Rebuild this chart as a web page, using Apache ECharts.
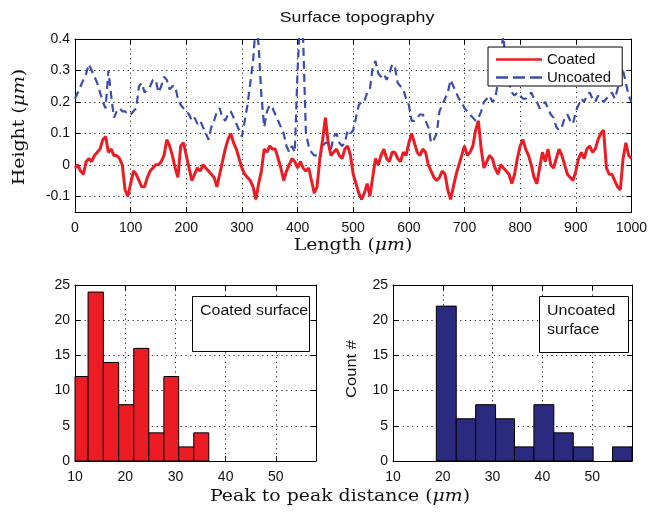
<!DOCTYPE html>
<html>
<head>
<meta charset="utf-8">
<script src="https://cdn.jsdelivr.net/npm/echarts@6/dist/echarts.min.js"></script>
<style>
  html, body { margin: 0; padding: 0; background: #fff; }
  #chart { width: 650px; height: 512px; }
</style>
</head>
<body>
<div id="chart"></div>
<script>
// Profile samples every 5 µm along the scan, 0 … 1000 µm
const sampleSpacing = 5;
const coatedHeight = [
  -0.01, 0.00, -0.02, -0.03, 0.01, 0.02, 0.01, 0.03, 0.04, 0.05,
  0.08, 0.09, 0.04, 0.05, 0.03, 0.03, 0.02, 0.00, -0.08, -0.10,
  -0.06, -0.02, -0.03, -0.05, -0.07, -0.07, -0.04, -0.02, -0.01, 0.00,
  0.00, 0.01, 0.03, 0.08, 0.06, 0.03, -0.01, -0.04, 0.06, 0.07,
  0.03, -0.01, -0.05, -0.03, -0.01, -0.02, 0.00, -0.01, -0.02, -0.03,
  -0.04, -0.07, -0.03, 0.01, 0.05, 0.08, 0.10, 0.07, 0.05, 0.02,
  -0.01, -0.03, -0.04, -0.05, -0.07, -0.11, -0.06, -0.02, 0.05, 0.04,
  0.06, 0.05, 0.05, 0.02, -0.01, -0.05, -0.02, 0.00, 0.02, 0.01,
  -0.01, 0.01, -0.01, -0.02, -0.01, -0.05, -0.09, -0.07, 0.02, 0.08,
  0.15, 0.07, 0.03, 0.04, 0.05, 0.03, 0.02, 0.05, 0.06, 0.03,
  -0.03, -0.06, -0.09, -0.11, -0.09, -0.06, -0.10, -0.04, 0.02, 0.00,
  0.03, 0.05, 0.02, 0.01, 0.04, 0.04, 0.02, 0.01, 0.04, 0.03,
  0.07, 0.10, 0.07, 0.04, 0.03, 0.05, 0.04, 0.00, -0.02, -0.04,
  -0.05, -0.04, -0.02, -0.03, -0.08, -0.11, -0.07, -0.03, 0.00, 0.03,
  0.06, 0.03, 0.04, 0.06, 0.11, 0.14, 0.05, -0.01, 0.01, 0.03,
  0.02, -0.01, -0.03, 0.00, -0.01, -0.02, -0.03, -0.06, -0.03, 0.02,
  0.06, 0.08, 0.05, 0.03, 0.00, -0.04, -0.06, -0.01, 0.04, 0.01,
  0.05, 0.00, -0.01, 0.02, 0.05, 0.03, 0.00, -0.03, -0.04, -0.05,
  -0.02, 0.02, 0.04, 0.02, 0.05, 0.06, 0.04, 0.05, 0.08, 0.10,
  0.11, -0.01, -0.03, -0.03, -0.05, -0.07, -0.08, 0.02, 0.07, 0.03,
  0.02
];
const uncoatedHeight = [
  0.21, 0.23, 0.25, 0.27, 0.29, 0.32, 0.30, 0.28, 0.26, 0.23,
  0.20, 0.18, 0.30, 0.22, 0.15, 0.17, 0.18, 0.17, 0.17, 0.16,
  0.16, 0.17, 0.18, 0.25, 0.26, 0.23, 0.24, 0.25, 0.27, 0.27,
  0.23, 0.25, 0.28, 0.27, 0.24, 0.25, 0.25, 0.21, 0.19, 0.18,
  0.17, 0.16, 0.14, 0.15, 0.13, 0.14, 0.12, 0.10, 0.08, 0.12,
  0.14, 0.17, 0.18, 0.15, 0.14, 0.16, 0.17, 0.15, 0.13, 0.11,
  0.09, 0.14, 0.19, 0.26, 0.33, 0.45, 0.38, 0.22, 0.12, 0.17,
  0.19, 0.18, 0.16, 0.14, 0.12, 0.10, 0.06, 0.04, 0.06, 0.04,
  0.30, 0.48, 0.40, 0.10, 0.06, 0.04, 0.03, 0.03, 0.02, 0.06,
  0.07, 0.07, 0.05, 0.09, 0.10, 0.07, 0.06, 0.07, 0.11, 0.10,
  0.11, 0.15, 0.19, 0.20, 0.20, 0.23, 0.24, 0.31, 0.33, 0.29,
  0.28, 0.29, 0.27, 0.29, 0.32, 0.31, 0.26, 0.25, 0.24, 0.21,
  0.19, 0.14, 0.14, 0.15, 0.16, 0.16, 0.14, 0.12, 0.07, 0.08,
  0.10, 0.17, 0.19, 0.21, 0.23, 0.27, 0.25, 0.23, 0.21, 0.20,
  0.18, 0.17, 0.16, 0.15, 0.14, 0.15, 0.17, 0.20, 0.21, 0.22,
  0.20, 0.21, 0.26, 0.36, 0.41, 0.30, 0.26, 0.23, 0.22, 0.23,
  0.22, 0.21, 0.21, 0.22, 0.23, 0.21, 0.20, 0.18, 0.19, 0.20,
  0.18, 0.16, 0.15, 0.12, 0.11, 0.12, 0.15, 0.16, 0.14, 0.13,
  0.17, 0.19, 0.21, 0.20, 0.22, 0.23, 0.21, 0.20, 0.22, 0.21,
  0.20, 0.21, 0.22, 0.23, 0.21, 0.24, 0.28, 0.30, 0.26, 0.22,
  0.20
];
const lengthTicks = [0, 100, 200, 300, 400, 500, 600, 700, 800, 900, 1000];
const heightTicks = [-0.1, 0, 0.1, 0.2, 0.3, 0.4];

// Peak-to-peak distance histograms: bin edges (µm) and counts
const coatedBinEdges = [9.6, 12.6, 15.65, 18.7, 21.7, 24.7, 27.7, 30.65, 33.65, 36.65];
const coatedCounts = [12, 24, 14, 8, 16, 4, 12, 2, 4];
const uncoatedBinEdges = [18.7, 22.7, 26.6, 30.6, 34.4, 38.3, 42.3, 46.2, 50.2, 54.1, 58.1];
const uncoatedCounts = [22, 6, 8, 6, 2, 8, 4, 2, 0, 2];
const distanceTicks = [10, 20, 30, 40, 50];
const countTicks = [0, 5, 10, 15, 20, 25];

const SANS = 'Liberation Sans, Arial, sans-serif';
const SERIF = 'DejaVu Serif, serif';
const INK = '#111';
const RED = '#ec1c24';
const BLUE = '#3b4cb0';
const NAVY = '#2a2a7e';
const WIDE = 1.18; // horizontal stretch of the lettering

const toPairs = (vals) => vals.map((v, i) => [i * sampleSpacing, v]);
const binData = (edges, counts) => counts.map((c, i) => [edges[i], edges[i + 1], c]);

const gridLine = { show: true, lineStyle: { color: '#222', type: [1.2, 3.6], width: 1 } };
const axisLine = { show: true, onZero: false, lineStyle: { color: '#000', width: 1 } };
const tickIn = (vals) => ({ show: true, inside: true, length: 5, lineStyle: { color: '#000' }, customValues: vals });
const tickLabel = (vals, margin) => ({
  show: true, customValues: vals, margin, color: INK, fontFamily: SANS, fontSize: 14,
  formatter: (v) => String(Math.round(v * 10) / 10)
});

function xPair(grid, min, max, ticks) {
  return [
    { type: 'value', gridIndex: grid, min, max, position: 'bottom',
      axisLine, axisTick: tickIn(ticks), axisLabel: tickLabel(ticks, 9), splitLine: gridLine },
    { type: 'value', gridIndex: grid, min, max, position: 'top',
      axisLine, axisTick: tickIn(ticks), axisLabel: { show: false }, splitLine: { show: false } }
  ];
}
function yPair(grid, min, max, ticks) {
  return [
    { type: 'value', gridIndex: grid, min, max, position: 'left',
      axisLine, axisTick: tickIn(ticks), axisLabel: tickLabel(ticks, 5), splitLine: gridLine },
    { type: 'value', gridIndex: grid, min, max, position: 'right',
      axisLine, axisTick: tickIn(ticks), axisLabel: { show: false }, splitLine: { show: false } }
  ];
}

function histRender(fill) {
  return function (params, api) {
    if (api.value(2) === 0) return null;
    const p0 = api.coord([api.value(0), 0]);
    const p1 = api.coord([api.value(1), api.value(2)]);
    const cs = params.coordSys;
    const rect = echarts.graphic.clipRectByRect(
      { x: p0[0], y: p1[1], width: p1[0] - p0[0], height: p0[1] - p1[1] },
      { x: cs.x, y: cs.y, width: cs.width, height: cs.height }
    );
    if (!rect) return null;
    return { type: 'rect', shape: rect, style: { fill, stroke: '#000', lineWidth: 1 } };
  };
}

// Serif axis caption with an italic unit
function caption(text, unit, x, y, rotation) {
  return {
    type: 'text', x, y, rotation: rotation || 0, scaleX: WIDE,
    style: {
      text: `{r|${text} (}{i|${unit}}{r|)}`, align: 'center', verticalAlign: 'middle',
      rich: {
        r: { fontFamily: SERIF, fontSize: 16, fill: INK },
        i: { fontFamily: SERIF, fontSize: 16, fontStyle: 'italic', fill: INK }
      }
    }
  };
}

const chart = echarts.init(document.getElementById('chart'), null, { renderer: 'canvas' });

chart.setOption({
  animation: false,
  backgroundColor: '#fff',
  grid: [
    { left: 75, top: 39, width: 557, height: 173 },
    { left: 75, top: 285, width: 241, height: 176 },
    { left: 393, top: 285, width: 239, height: 176 }
  ],
  xAxis: [
    ...xPair(0, 0, 1000, lengthTicks),
    ...xPair(1, 10, 58, distanceTicks),
    ...xPair(2, 10, 58, distanceTicks)
  ],
  yAxis: [
    ...yPair(0, -0.15, 0.4, heightTicks),
    ...yPair(1, 0, 25, countTicks),
    ...yPair(2, 0, 25, countTicks)
  ],
  legend: {
    left: 488, top: 47, orient: 'vertical', itemGap: 1,
    itemWidth: 46, itemHeight: 2.5, padding: [4, 11, 0, 8],
    backgroundColor: '#fff', borderColor: '#000', borderWidth: 1, borderRadius: 0,
    textStyle: { fontFamily: SANS, fontSize: 15, lineHeight: 17, color: INK },
    data: [
      { name: 'Coated', icon: 'path://M0,0H46V2.5H0Z' },
      { name: 'Uncoated', icon: 'path://M0,0H12V2.5H0Z M17,0H29V2.5H17Z M34,0H46V2.5H34Z' }
    ]
  },
  graphic: [
    { type: 'text', x: 357, y: 18, scaleX: WIDE, style: {
        text: 'Surface topography', align: 'center', verticalAlign: 'middle',
        fontFamily: SANS, fontSize: 15, fill: INK } },
    caption('Length', 'μm', 353, 246),
    caption('Height', 'μm', 20, 127, Math.PI / 2),
    caption('Peak to peak distance', 'μm', 340, 497),
    { type: 'text', x: 352, y: 369, rotation: Math.PI / 2, scaleX: WIDE, style: {
        text: 'Count #', align: 'center', verticalAlign: 'middle',
        fontFamily: SANS, fontSize: 14, fill: INK } },
    { type: 'rect', z: 10, shape: { x: 192.5, y: 296.5, width: 117, height: 55 },
      style: { fill: '#fff', stroke: '#000', lineWidth: 1 } },
    { type: 'text', z: 11, x: 200, y: 311, scaleX: 1.14, style: {
        text: 'Coated surface', verticalAlign: 'middle', fontFamily: SANS, fontSize: 14, fill: INK } },
    { type: 'rect', z: 10, shape: { x: 539.5, y: 296.5, width: 89, height: 56 },
      style: { fill: '#fff', stroke: '#000', lineWidth: 1 } },
    { type: 'text', z: 11, x: 547, y: 302, scaleX: 1.14, style: {
        text: 'Uncoated\nsurface', lineHeight: 19, fontFamily: SANS, fontSize: 14, fill: INK } }
  ],
  series: [
    { name: 'Coated', type: 'line', xAxisIndex: 0, yAxisIndex: 0, data: toPairs(coatedHeight),
      showSymbol: false, symbol: 'none', clip: true,
      lineStyle: { color: RED, width: 3 }, itemStyle: { color: RED }, z: 3 },
    { name: 'Uncoated', type: 'line', xAxisIndex: 0, yAxisIndex: 0, data: toPairs(uncoatedHeight),
      showSymbol: false, symbol: 'none', clip: true,
      lineStyle: { color: BLUE, width: 2.2, type: [8, 5] }, itemStyle: { color: BLUE }, z: 2 },
    { name: 'Coated surface', type: 'custom', xAxisIndex: 2, yAxisIndex: 2,
      data: binData(coatedBinEdges, coatedCounts), renderItem: histRender(RED),
      encode: { x: [0, 1], y: 2 } },
    { name: 'Uncoated surface', type: 'custom', xAxisIndex: 4, yAxisIndex: 4,
      data: binData(uncoatedBinEdges, uncoatedCounts), renderItem: histRender(NAVY),
      encode: { x: [0, 1], y: 2 } }
  ]
});
</script>
</body>
</html>
